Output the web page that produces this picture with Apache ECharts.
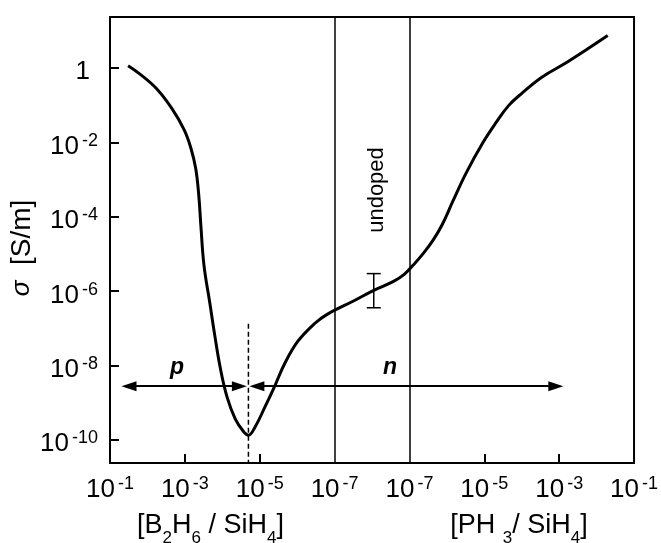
<!DOCTYPE html>
<html>
<head>
<meta charset="utf-8">
<script src="https://cdn.jsdelivr.net/npm/echarts@6/dist/echarts.min.js"></script>
<style>html,body{margin:0;padding:0;background:#fff}#c{width:661px;height:543px}</style>
</head>
<body>
<div id="c"></div>
<script>
// x position on the split axis: 0..3 = B2H6/SiH4 10^-1..10^-7, 4..7 = PH3/SiH4 10^-7..10^-1
const xTickPos = [0, 1, 2, 3, 4, 5, 6, 7];
const xTickExp = ['-1', '-3', '-5', '-7', '-7', '-5', '-3', '-1'];
const xMinorTicks = [1, 2, 5, 6];
const regionBounds = [3, 4];
// y: log10(sigma [S/m])
const yTickVals = [0, -2, -4, -6, -8, -10];
const yMin = -10.63, yMax = 1.38;

const curveX = [0.242, 0.396, 0.617, 0.832, 0.991, 1.079, 1.145, 1.185, 1.215, 1.255, 1.334, 1.400, 1.476, 1.563, 1.674, 1.783, 1.849, 1.938, 2.070, 2.202, 2.334, 2.510, 2.730, 2.906, 3.259, 3.523, 3.787, 3.930, 4.050, 4.180, 4.316, 4.440, 4.580, 4.755, 4.976, 5.151, 5.327, 5.504, 5.768, 6.120, 6.648];
const curveLogSigma = [0.07, -0.15, -0.54, -1.10, -1.66, -2.14, -2.70, -3.40, -4.27, -5.30, -6.33, -7.20, -8.10, -8.85, -9.45, -9.78, -9.88, -9.66, -9.12, -8.55, -7.95, -7.35, -6.88, -6.62, -6.26, -5.98, -5.74, -5.55, -5.30, -5.00, -4.63, -4.20, -3.58, -2.83, -2.02, -1.48, -1.00, -0.67, -0.24, 0.18, 0.88];

// undoped error bar: [x, high, low]
const errBar = [[3.523, -5.53, -6.45]];
// dashed p/n boundary
const boundaryX = 1.849, boundaryTop = -6.88;
// arrows (symbol centres) at level
const arrowLevel = -8.56;
const pArrow = [0.254, 1.728];
const nArrow = [1.962, 5.955];

const FONT = '"Liberation Sans", Arial, Helvetica, sans-serif';
const curveData = curveX.map((x, i) => [x, curveLogSigma[i]]);

const chart = echarts.init(document.getElementById('c'));
const supRich = {
  m: { fontSize: 26, fontFamily: FONT, color: '#000', lineHeight: 28, verticalAlign: 'bottom' },
  s: { fontSize: 18, fontFamily: FONT, color: '#000', lineHeight: 18, verticalAlign: 'top', padding: [0, 0, 0, 3] },
  one: { fontSize: 26, fontFamily: FONT, color: '#000', lineHeight: 28, padding: [0, 8, 0, 0] }
};
const subRich = {
  m: { fontSize: 27, fontFamily: FONT, fill: '#000', lineHeight: 30 },
  b: { fontSize: 17, fontFamily: FONT, fill: '#000', lineHeight: 20, padding: [24, 0, 0, 0] }
};

chart.setOption({
  animation: false,
  backgroundColor: '#fff',
  grid: { left: 110, top: 17, right: 21, bottom: 80, show: true, borderColor: '#000', borderWidth: 2, backgroundColor: 'transparent' },
  xAxis: {
    type: 'value', min: 0, max: 7,
    axisLine: { show: false, onZero: false },
    splitLine: { show: false },
    axisTick: { show: true, inside: true, length: 9, lineStyle: { color: '#000', width: 2 }, customValues: xMinorTicks },
    axisLabel: {
      customValues: xTickPos, margin: 12, showMinLabel: true, showMaxLabel: true, hideOverlap: false,
      fontSize: 26, fontFamily: FONT, color: '#000',
      formatter: v => '{m|10}{s|' + xTickExp[Math.round(v)] + '}', rich: supRich
    }
  },
  yAxis: {
    type: 'value', min: yMin, max: yMax,
    axisLine: { show: false, onZero: false },
    splitLine: { show: false },
    axisTick: { show: true, inside: true, length: 9, lineStyle: { color: '#000', width: 2 }, customValues: yTickVals },
    axisLabel: {
      customValues: yTickVals, margin: 12, padding: [7, 0, 0, 0], showMinLabel: true, showMaxLabel: true,
      fontSize: 26, fontFamily: FONT, color: '#000',
      formatter: v => Math.round(v) === 0 ? '{one|1}' : '{m|10}{s|' + Math.round(v) + '}', rich: supRich
    }
  },
  series: [
    {
      type: 'line', data: curveData, smooth: 0.4, showSymbol: false,
      lineStyle: { color: '#000', width: 3 }, z: 5,
      markLine: {
        silent: true, symbol: ['none', 'none'], label: { show: false },
        lineStyle: { color: '#000', width: 1.5, type: 'solid' },
        data: regionBounds.map(b => ({ xAxis: b }))
      }
    },
    {
      type: 'line', data: [[boundaryX, boundaryTop], [boundaryX, yMin]], showSymbol: false,
      lineStyle: { color: '#000', width: 1.5, type: [5, 3] }
    },
    {
      type: 'line', data: [], showSymbol: false,
      markLine: {
        silent: true, symbol: ['triangle', 'triangle'], symbolSize: [10, 15], label: { show: false },
        lineStyle: { color: '#000', width: 2, type: 'solid' },
        itemStyle: { color: '#000' },
        data: [
          [{ coord: [pArrow[0], arrowLevel] }, { coord: [pArrow[1], arrowLevel] }],
          [{ coord: [nArrow[0], arrowLevel] }, { coord: [nArrow[1], arrowLevel] }]
        ]
      }
    },
    {
      type: 'custom', data: errBar,
      renderItem: (params, api) => {
        const x = api.value(0);
        const p1 = api.coord([x, api.value(1)]);
        const p2 = api.coord([x, api.value(2)]);
        const w = 7, st = { stroke: '#000', lineWidth: 1.5 };
        return { type: 'group', children: [
          { type: 'line', shape: { x1: p1[0], y1: p1[1], x2: p2[0], y2: p2[1] }, style: st },
          { type: 'line', shape: { x1: p1[0] - w, y1: p1[1], x2: p1[0] + w, y2: p1[1] }, style: st },
          { type: 'line', shape: { x1: p2[0] - w, y1: p2[1], x2: p2[0] + w, y2: p2[1] }, style: st }
        ]};
      }
    }
  ],
  graphic: [
    { type: 'text', x: 22, y: 248, rotation: Math.PI / 2,
      style: { text: '{g|σ}{t|  [S/m]}', align: 'center', verticalAlign: 'middle', fill: '#000',
        rich: { g: { fontSize: 26, fontStyle: 'italic', fontFamily: FONT, fill: '#000' },
                t: { fontSize: 28, fontFamily: FONT, fill: '#000' } } } },
    { type: 'text', x: 210.5, y: 526, z: 10,
      style: { text: '{m|[B}{b|2}{m|H}{b|6}{m| / SiH}{b|4}{m|]}', align: 'center', verticalAlign: 'middle', fill: '#000', rich: subRich } },
    { type: 'text', x: 519, y: 526, z: 10,
      style: { text: '{m|[PH }{b|3}{m|/ SiH}{b|4}{m|]}', align: 'center', verticalAlign: 'middle', fill: '#000', rich: subRich } },
    { type: 'text', x: 177, y: 368,
      style: { text: 'p', align: 'center', verticalAlign: 'middle', font: 'italic bold 23px ' + FONT, fill: '#000' } },
    { type: 'text', x: 390, y: 368,
      style: { text: 'n', align: 'center', verticalAlign: 'middle', font: 'italic bold 23px ' + FONT, fill: '#000' } },
    { type: 'text', x: 377, y: 190, rotation: Math.PI / 2,
      style: { text: 'undoped', align: 'center', verticalAlign: 'middle', font: '22px ' + FONT, fill: '#000' } }
  ]
});
</script>
</body>
</html>
